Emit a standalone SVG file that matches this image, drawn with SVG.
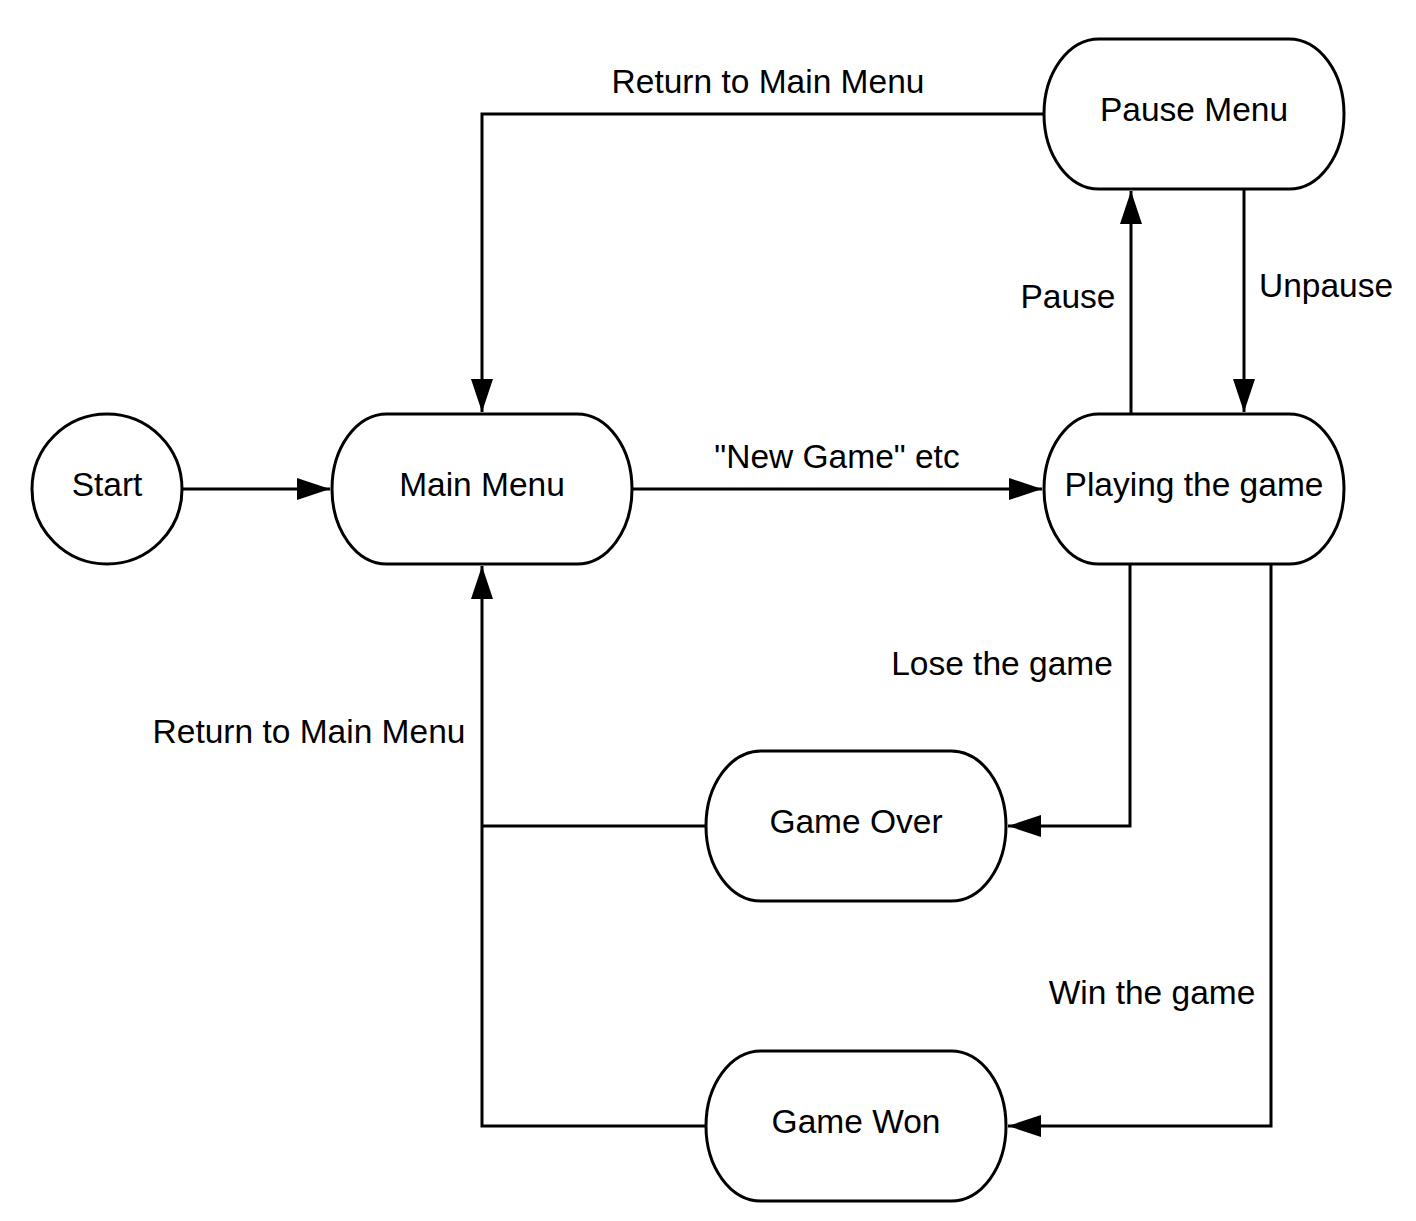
<svg xmlns="http://www.w3.org/2000/svg" width="1416" height="1221" viewBox="0 0 1416 1221">
<style>
.n{fill:#fff;stroke:#000;stroke-width:3}
.t{font-family:"Liberation Sans",Arial,sans-serif;font-size:33.5px;fill:#000;text-anchor:middle}
.c{fill:none;stroke:#000;stroke-width:3}
</style>
<defs>
<marker id="ah" viewBox="0 0 33 22" refX="33" refY="11" markerWidth="33" markerHeight="22" markerUnits="userSpaceOnUse" orient="auto">
<path d="M0,0 L33,11 L0,22 Z" fill="#000"/>
</marker>
</defs>
<rect width="1416" height="1221" fill="#fff"/>
<g id="connectors">
<path class="c" d="M182,489 H330" marker-end="url(#ah)"/>
<path class="c" d="M632,489 H1042" marker-end="url(#ah)"/>
<path class="c" d="M1044,114 H482 V412" marker-end="url(#ah)"/>
<path class="c" d="M1131,414 V191" marker-end="url(#ah)"/>
<path class="c" d="M1244,189 V412" marker-end="url(#ah)"/>
<path class="c" d="M1130,564 V826 H1008" marker-end="url(#ah)"/>
<path class="c" d="M1271,564 V1126 H1008" marker-end="url(#ah)"/>
<path class="c" d="M706,826 H482"/>
<path class="c" d="M706,1126 H482 V566" marker-end="url(#ah)"/>
<text class="t" x="768" y="93">Return to Main Menu</text>
<text class="t" x="837" y="468">"New Game" etc</text>
<text class="t" x="1068" y="308">Pause</text>
<text class="t" x="1326" y="297">Unpause</text>
<text class="t" x="1002" y="675">Lose the game</text>
<text class="t" x="1152" y="1004">Win the game</text>
<text class="t" x="309" y="743">Return to Main Menu</text>
</g>
<g id="start"><circle class="n" cx="107" cy="489" r="75"/><text class="t" x="107" y="496">Start</text></g>
<g id="main-menu"><rect class="n" x="332" y="414" width="300" height="150" rx="55" ry="75"/><text class="t" x="482" y="496">Main Menu</text></g>
<g id="pause-menu"><rect class="n" x="1044" y="39" width="300" height="150" rx="55" ry="75"/><text class="t" x="1194" y="121">Pause Menu</text></g>
<g id="playing"><rect class="n" x="1044" y="414" width="300" height="150" rx="55" ry="75"/><text class="t" x="1194" y="496">Playing the game</text></g>
<g id="game-over"><rect class="n" x="706" y="751" width="300" height="150" rx="55" ry="75"/><text class="t" x="856" y="833">Game Over</text></g>
<g id="game-won"><rect class="n" x="706" y="1051" width="300" height="150" rx="55" ry="75"/><text class="t" x="856" y="1133">Game Won</text></g>
</svg>
